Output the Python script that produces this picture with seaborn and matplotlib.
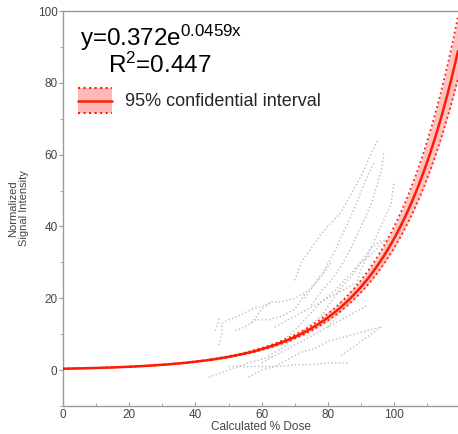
import numpy as np
import pandas as pd
import matplotlib
matplotlib.use("Agg")
import matplotlib.pyplot as plt
import seaborn as sns
from matplotlib.legend_handler import HandlerBase
from matplotlib.patches import Rectangle
from matplotlib.lines import Line2D

# ---- fit parameters ----
fit_a = 0.372
fit_b = 0.0459
fit_r2 = 0.447
ci_db_upper = 0.00086   # slope offset giving upper 95% band
ci_db_lower = 0.00075   # slope offset giving lower 95% band
fit_x_max = 119.3

# ---- individual dose-response traces (gray dotted) ----
s01_x = [44, 47, 50, 53, 56, 60, 64]
s01_y = [-2, -1, 0, 1, 2, 3, 4]
s02_x = [47, 48, 48, 50, 53, 57, 61, 63]
s02_y = [7, 10, 13, 14, 15, 17, 18, 19]
s03_x = [46, 47, 47]
s03_y = [11, 14, 15]
s04_x = [52, 55, 58, 62, 66, 70, 73]
s04_y = [11, 12, 14, 14, 15, 17, 21]
s05_x = [57, 60, 63, 66, 70, 74, 78, 81]
s05_y = [13, 17, 19, 19, 20, 22, 26, 30]
s06_x = [50, 55, 60, 65, 70, 75, 80, 86]
s06_y = [1, 1, 1, 1, 1.5, 1.5, 2, 2]
s07_x = [56, 60, 64, 68, 72, 76, 80, 84, 88, 92, 96]
s07_y = [-2, 0, 1, 3, 5, 6, 8, 9, 10, 11, 12]
s08_x = [60, 64, 68, 72, 76, 80, 84, 88, 92]
s08_y = [2, 4, 6, 8, 10, 12, 14, 16, 18]
s09_x = [62, 66, 70, 74, 78, 82, 86, 90, 95]
s09_y = [4, 6, 9, 12, 15, 17, 21, 24, 27]
s10_x = [66, 70, 74, 78, 82, 86, 90, 94, 97]
s10_y = [8, 11, 15, 19, 22, 26, 30, 33, 36]
s11_x = [70, 72, 75, 78, 81, 84, 87, 90, 93, 95]
s11_y = [25, 30, 34, 38, 41, 44, 49, 54, 60, 64]
s12_x = [73, 76, 79, 82, 85, 88, 91, 94]
s12_y = [20, 24, 28, 33, 39, 45, 52, 58]
s13_x = [75, 78, 81, 84, 87, 90, 93, 96, 97]
s13_y = [18, 22, 25, 29, 34, 40, 46, 55, 61]
s14_x = [78, 81, 84, 87, 90, 93, 96, 99]
s14_y = [15, 19, 23, 26, 30, 34, 36, 36]
s15_x = [80, 83, 86, 89, 92, 95, 98]
s15_y = [12, 15, 19, 22, 26, 30, 34]
s16_x = [84, 87, 90, 93, 96]
s16_y = [4, 6, 8, 10, 12]
s17_x = [64, 68, 72, 76, 80, 84, 88]
s17_y = [12, 14, 16, 18, 20, 22, 24]
s18_x = [87, 90, 93, 96, 99, 100]
s18_y = [20, 28, 34, 40, 46, 52]

series_x = [s01_x, s02_x, s03_x, s04_x, s05_x, s06_x, s07_x, s08_x, s09_x,
            s10_x, s11_x, s12_x, s13_x, s14_x, s15_x, s16_x, s17_x, s18_x]
series_y = [s01_y, s02_y, s03_y, s04_y, s05_y, s06_y, s07_y, s08_y, s09_y,
            s10_y, s11_y, s12_y, s13_y, s14_y, s15_y, s16_y, s17_y, s18_y]

x_ticks = [0, 20, 40, 60, 80, 100]
y_ticks = [0, 20, 40, 60, 80, 100]

# ---- build tables ----
rows = []
for i, (xs, ys) in enumerate(zip(series_x, series_y)):
    for x, y in zip(xs, ys):
        rows.append({"dose": x, "signal": y, "unit": i})
traces = pd.DataFrame(rows)

fx = np.linspace(0, fit_x_max, 300)
fit_df = pd.DataFrame({
    "dose": fx,
    "fit": fit_a * np.exp(fit_b * fx),
    "upper": fit_a * np.exp((fit_b + ci_db_upper) * fx),
    "lower": fit_a * np.exp((fit_b - ci_db_lower) * fx),
})

sns.set_style("white")
plt.rcParams["font.family"] = ["Liberation Sans", "DejaVu Sans"]
plt.rcParams["mathtext.fontset"] = "custom"
plt.rcParams["mathtext.rm"] = "Liberation Sans"
plt.rcParams["mathtext.it"] = "Liberation Sans"
plt.rcParams["mathtext.default"] = "regular"

fig = plt.figure(figsize=(4.58, 4.34), dpi=100)
ax = fig.add_axes([63 / 458, 1 - 406 / 434, 1 - 63 / 458, (406 - 11) / 434])

sns.lineplot(data=traces, x="dose", y="signal", units="unit", estimator=None,
             color="#bdbdbd", linestyle=":", linewidth=1.0, ax=ax, legend=False)

red = "#ff1a00"
pink = "#ffb8b8"
ax.fill_between(fit_df["dose"], fit_df["lower"], fit_df["upper"],
                color=pink, alpha=0.85, linewidth=0, zorder=3)
sns.lineplot(data=fit_df, x="dose", y="upper", color=red, linestyle=":",
             linewidth=1.3, ax=ax, zorder=4)
sns.lineplot(data=fit_df, x="dose", y="lower", color=red, linestyle=":",
             linewidth=1.3, ax=ax, zorder=4)
sns.lineplot(data=fit_df, x="dose", y="fit", color=red, linewidth=1.8,
             ax=ax, zorder=5)

ax.set_xlim(0, fit_x_max)
ax.set_ylim(-10, 100)
ax.set_xticks(x_ticks)
ax.set_yticks(y_ticks)
ax.set_xticks([10, 30, 50, 70, 90, 110], minor=True)
ax.set_yticks([-10, 10, 30, 50, 70, 90], minor=True)

spine_c = "#9a9a9a"
for s in ["left", "bottom", "top"]:
    ax.spines[s].set_color(spine_c)
    ax.spines[s].set_linewidth(1.0)
    ax.spines[s].set_visible(True)
ax.spines["right"].set_visible(False)

ax.tick_params(axis="x", which="both", direction="in", colors=spine_c,
               labelcolor="#444444", labelsize=8.5, length=3, pad=2)
ax.tick_params(axis="x", which="minor", length=2)
ax.tick_params(axis="y", which="both", direction="out", colors=spine_c,
               labelcolor="#444444", labelsize=8.5, length=3, pad=1)
ax.tick_params(axis="y", which="minor", length=2)
ax.tick_params(bottom=True, left=True, which="both")

ax.set_xlabel("Calculated % Dose", fontsize=8.5, color="#444444", labelpad=0)
ax.set_ylabel("Normalized\nSignal Intensity", fontsize=8, color="#444444",
              labelpad=6)

fig.text(80 / 458, 1 - 46 / 434, r"y=0.372e$^{0.0459x}$",
         fontsize=17.5, color="black", ha="left", va="baseline")
fig.text(108 / 458, 1 - 73 / 434, r"R$^{2}$=%.3f" % fit_r2,
         fontsize=17.5, color="black", ha="left", va="baseline")


class CIHandler(HandlerBase):
    def create_artists(self, legend, orig_handle, xdescent, ydescent,
                       width, height, fontsize, trans):
        rect = Rectangle((-xdescent, -ydescent), width, height,
                         facecolor=pink, edgecolor="none", transform=trans)
        top = Line2D([-xdescent, -xdescent + width], [-ydescent + height] * 2,
                     color=red, linestyle=":", linewidth=1.5, transform=trans)
        bot = Line2D([-xdescent, -xdescent + width], [-ydescent] * 2,
                     color=red, linestyle=":", linewidth=1.5, transform=trans)
        mid = Line2D([-xdescent, -xdescent + width], [-ydescent + height / 2] * 2,
                     color=red, linewidth=1.8, transform=trans)
        return [rect, top, bot, mid]


proxy = Rectangle((0, 0), 1, 1)
ax.legend([proxy], ["95% confidential interval"],
          handler_map={Rectangle: CIHandler()},
          loc="upper left", bbox_to_anchor=(76 / 458, 1 - 86 / 434),
          bbox_transform=fig.transFigure, frameon=False, fontsize=13,
          handlelength=1.9, handleheight=1.8, handletextpad=0.7,
          borderaxespad=0, borderpad=0.1)

fig.savefig("out.png", dpi=100)
